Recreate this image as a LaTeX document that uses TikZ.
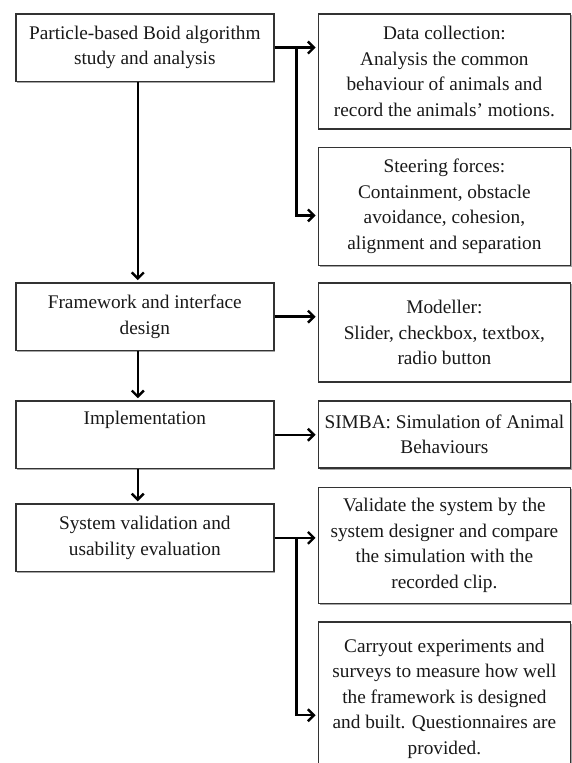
\documentclass[tikz,border=0pt]{standalone}
\usepackage{fontspec}
\setmainfont{Liberation Serif}
\usetikzlibrary{positioning, arrows.meta, shadows}

\begin{document}
\begin{tikzpicture}[x=1pt, y=1pt,
					stagenode/.style={rectangle,
					line width=1.6pt,
					minimum width=258pt,
					minimum height=67.5pt,
					inner sep=2pt,
					align=center,
					draw=black!80,
					fill=white,
					text=black!90,
					general shadow={fill=black!35, shadow xshift=1.5pt, shadow yshift=-1.5pt},
					font=\fontsize{19.3}{25.5}\selectfont},
					tasknode/.style={stagenode,
					minimum width=252pt},
					flowarrow/.style={-{Straight Barb[length=6pt,width=12pt]},
					line width=2.4pt,
					black,
					shorten >=2pt}
					]

% fixed page size, as the reference
\useasboundingbox (0,0) rectangle (571,-763);

%stage nodes
\node[stagenode]  (stage1) [anchor=north west] at (15,-13) {Particle-based Boid algorithm\\study and analysis};
\node[stagenode]  (stage2) [below=200pt of stage1] {Framework and interface\\design};
\node[stagenode]  (stage3) [below=49pt of stage2] {Implementation\\\strut};
\node[stagenode]  (stage4) [below=34pt of stage3] {System validation and\\usability evaluation};

% task nodes
\node[tasknode, minimum height=115pt]  (task1) [right=43pt of stage1.north east, anchor=north west] {Data collection:\\Analysis the common\\behaviour of animals and\\record the animals' motions.};
\node[tasknode, minimum height=118pt]  (task2) [below=17pt of task1] {Steering forces:\\Containment, obstacle\\avoidance, cohesion,\\alignment and separation};
\node[tasknode, minimum height=99pt]  (task3) [right=43pt of stage2.north east, anchor=north west] {Modeller:\\Slider, checkbox, textbox,\\radio button};
\node[tasknode, minimum height=67pt]  (task4) [right=43pt of stage3.north east, anchor=north west] {SIMBA: Simulation of Animal\\Behaviours};
\node[tasknode, minimum height=116pt]  (task5) [below=18pt of task4] {Validate the system by the\\system designer and compare\\the simulation with the\\recorded clip.};
\node[tasknode, minimum height=153pt]  (task6) [below=17pt of task5] {Carryout experiments and\\surveys to measure how well\\the framework is designed\\and built. Questionnaires are\\provided.};

% arrows stage to stage
\path[flowarrow] ([xshift=-7pt]stage1.south) edge ([xshift=-7pt]stage2.north);
\path[flowarrow] ([xshift=-7pt]stage2.south) edge ([xshift=-7pt]stage3.north);
\path[flowarrow] ([xshift=-7pt]stage3.south) edge ([xshift=-7pt]stage4.north);

% arrows stage to task
%study
\draw[flowarrow] (stage1.east) -- (stage1.east -| task1.west);
\draw[flowarrow] (stage1.east) ++(22pt,0) coordinate (fork1) |- ([yshift=-9pt]task2.west);
%design
\draw[flowarrow] (stage2.east) -- (stage2.east -| task3.west);
%implementation
\draw[flowarrow] (stage3.east) -- (stage3.east -| task4.west);
%validation
\draw[flowarrow] (stage4.east) -- (stage4.east -| task5.west);
\draw[flowarrow] (stage4.east) ++(22pt,0) coordinate (fork2) |- ([yshift=-16.5pt]task6.west);

\end{tikzpicture}
\end{document}
